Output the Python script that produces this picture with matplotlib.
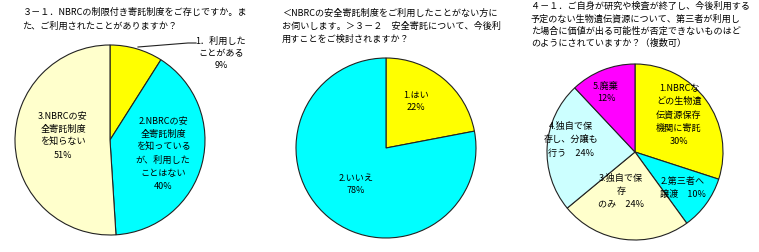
import matplotlib
matplotlib.use("Agg")
import matplotlib.pyplot as plt

plt.rcParams["font.family"] = ["Noto Sans CJK JP", "DejaVu Sans"]

# --- Daten -------------------------------------------------------------
q1_title = "３－１．NBRCの制限付き寄託制度をご存じですか。ま\nた、ご利用されたことがありますか？"
q1_labels = ["1．利用した\nことがある", "2.NBRCの安\n全寄託制度\nを知っている\nが、利用した\nことはない",
             "3.NBRCの安\n全寄託制度\nを知らない"]
q1_values = [9, 40, 51]

q2_title = ("＜NBRCの安全寄託制度をご利用したことがない方に\n"
            "お伺いします。＞３－２　安全寄託について、今後利\n用すことをご検討されますか？")
q2_labels = ["1.はい", "2.いいえ"]
q2_values = [22, 78]

q3_title = ("４－１．ご自身が研究や検査が終了し、今後利用する\n"
            "予定のない生物遺伝資源について、第三者が利用し\n"
            "た場合に価値が出る可能性が否定できないものはど\n"
            "のようにされていますか？（複数可）")
q3_labels = ["1.NBRCな\nどの生物遺\n伝資源保存\n機関に寄託", "2.第三者へ\n譲渡", "3.独自で保\n存\nのみ",
             "4.独自で保\n存し、分譲も\n行う", "5.廃棄"]
q3_values = [30, 10, 24, 24, 12]

W, H = 759, 252
FS = 6.55

fig = plt.figure(figsize=(W / 100, H / 100), dpi=100)
ax = fig.add_axes([0, 0, 1, 1])


def pie(values, colors, cx, cy, r):
    wedges, _ = ax.pie(values, colors=colors, center=(cx, H - cy), radius=r,
                       startangle=90, counterclock=False, frame=True,
                       wedgeprops=dict(edgecolor="#222222", linewidth=0.8))
    return wedges


def txt(x, y, s, ha="center", ls=1.55):
    ax.text(x, H - y, s, ha=ha, va="top", fontsize=FS, linespacing=ls,
            color="black")


# Pie 1
pie(q1_values, ["#FFFF00", "#00FFFF", "#FFFFCC"], 110, 140, 95)
txt(22, 8, q1_title, ha="left", ls=1.6)
ax.plot([138, 188, 196], [H - 47, H - 43, H - 43], color="#222222", lw=0.8)
txt(221, 37, f"{q1_labels[0]}\n{q1_values[0]}%", ls=1.4)
txt(163, 117, f"{q1_labels[1]}\n{q1_values[1]}%")
txt(63, 112, f"{q1_labels[2]}\n{q1_values[2]}%")

# Pie 2
pie(q2_values, ["#FFFF00", "#00FFFF"], 386, 148, 90)
txt(282, 9, q2_title, ha="left", ls=1.5)
txt(416, 91, f"{q2_labels[0]}\n{q2_values[0]}%", ls=1.4)
txt(356, 174, f"{q2_labels[1]}\n{q2_values[1]}%", ls=1.4)

# Pie 3
pie(q3_values, ["#FFFF00", "#00FFFF", "#FFFFCC", "#CCFFFF", "#FF00FF"], 635, 152, 88)
txt(531, 2, q3_title, ha="left", ls=1.45)
txt(679, 84, f"{q3_labels[0]}\n{q3_values[0]}%", ls=1.6)
txt(683, 177, f"{q3_labels[1]}　{q3_values[1]}%", ls=1.6)
txt(621, 174, f"{q3_labels[2]}　{q3_values[2]}%", ls=1.55)
txt(571, 122, f"{q3_labels[3]}　{q3_values[3]}%", ls=1.6)
txt(606, 82, f"{q3_labels[4]}\n{q3_values[4]}%", ls=1.4)

ax.set_xlim(0, W)
ax.set_ylim(0, H)
ax.set_aspect("auto")
ax.axis("off")

fig.savefig("out.png", dpi=100)
